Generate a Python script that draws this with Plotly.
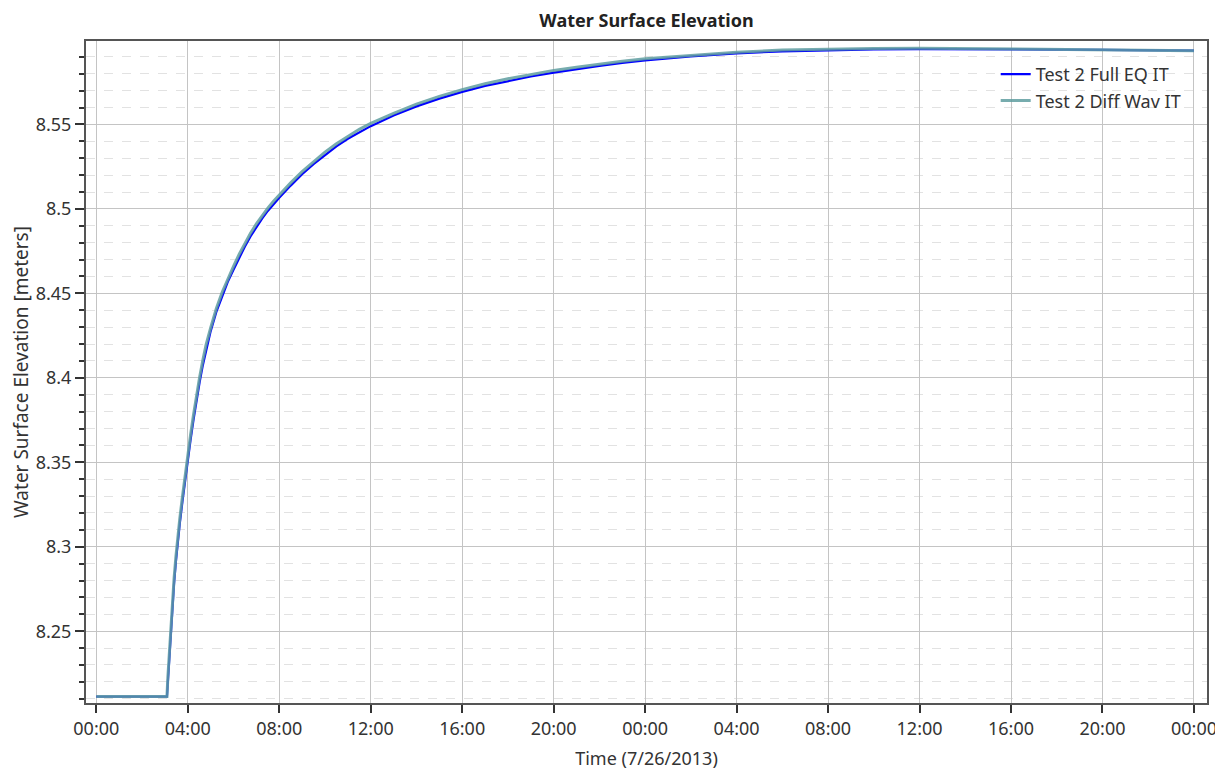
import pandas as pd
import plotly.graph_objects as go

# ---- data (hours since 7/26/2013 00:00) ----
hours = [0, 3.09, 3.13, 3.17, 3.21, 3.26, 3.33, 3.40, 3.48, 3.55, 3.65, 3.77, 3.88, 4.00, 4.12, 4.25,
         4.38, 4.52, 4.66, 4.80, 5.00, 5.25, 5.50, 5.75, 6.00, 6.25, 6.50, 6.75, 7.00, 7.25, 7.50, 7.75,
         8.00, 8.50, 9.00, 9.50, 10.0, 10.5, 11.0, 11.5, 12.0, 13, 14, 15, 16, 17, 18, 19, 20, 21, 22,
         23, 24, 26, 28, 30, 32, 34, 36, 38, 40, 42, 44, 46, 48]

wse_full = [8.2113, 8.2113, 8.220, 8.229, 8.239, 8.251, 8.265, 8.278, 8.291, 8.301, 8.3135, 8.327,
            8.339, 8.351, 8.363, 8.375, 8.3865, 8.3975, 8.4075, 8.4165, 8.4275, 8.439, 8.4485, 8.4568,
            8.464, 8.4712, 8.4778, 8.4838, 8.4893, 8.4943, 8.4988, 8.5029, 8.5066, 8.5138, 8.5205,
            8.5265, 8.532, 8.537, 8.5415, 8.5455, 8.549, 8.5553, 8.5607, 8.5653, 8.5693, 8.5728,
            8.5758, 8.5784, 8.5807, 8.5828, 8.5847, 8.5864, 8.5879, 8.5903, 8.5921, 8.5933, 8.5941,
            8.5945, 8.5946, 8.5946, 8.5945, 8.5943, 8.5941, 8.5939, 8.5937]

wse_diff = [8.2113, 8.2113, 8.223, 8.232, 8.242, 8.254, 8.268, 8.281, 8.294, 8.304, 8.3165, 8.330,
            8.342, 8.354, 8.366, 8.378, 8.3895, 8.4005, 8.4105, 8.4195, 8.4295, 8.441, 8.4505, 8.4588,
            8.466, 8.4732, 8.4798, 8.4858, 8.4912, 8.4961, 8.5005, 8.5045, 8.5082, 8.5154, 8.5221,
            8.5281, 8.5336, 8.5386, 8.5431, 8.5471, 8.5506, 8.5566, 8.562, 8.5666, 8.5706, 8.5741,
            8.5771, 8.5797, 8.582, 8.5838, 8.5857, 8.5874, 8.5889, 8.591, 8.5928, 8.594, 8.5946,
            8.595, 8.5951, 8.5949, 8.5948, 8.5945, 8.5942, 8.5939, 8.5937]

series_names = ["Test 2 Full EQ IT", "Test 2 Diff Wav IT"]
y_tick_vals = [8.25, 8.3, 8.35, 8.4, 8.45, 8.5, 8.55]
y_tick_text = ["8.25", "8.3", "8.35", "8.4", "8.45", "8.5", "8.55"]

start = pd.Timestamp("2013-07-26 00:00")
times = [start + pd.Timedelta(hours=h) for h in hours]

FONT = "Noto Sans"

fig = go.Figure()
fig.add_trace(go.Scatter(x=times, y=wse_full, mode="lines", name=series_names[0],
                         line=dict(color="#0000ff", width=2.2)))
fig.add_trace(go.Scatter(x=times, y=wse_diff, mode="lines", name=series_names[1],
                         line=dict(color="rgba(95,158,160,0.85)", width=3)))

x_lo = start - pd.Timedelta(hours=0.45)
x_hi = start + pd.Timedelta(hours=48.57)

fig.update_layout(
    width=1223, height=772,
    margin=dict(l=74, r=24, t=33, b=77),
    paper_bgcolor="white", plot_bgcolor="white",
    font=dict(family=FONT, color="#333333", size=16),
    title=dict(text="<b>Water Surface Elevation</b>", x=0.5, xref="paper", xanchor="center",
               yref="container", y=0.984, yanchor="middle",
               font=dict(family=FONT, size=18, color="#222222")),
    showlegend=True,
    legend=dict(x=0.981, xanchor="right", y=0.9775, yanchor="top", bgcolor="rgba(0,0,0,0)",
                font=dict(family=FONT, size=18, color="#333333"), itemwidth=30, tracegroupgap=0),
)

fig.update_xaxes(
    type="date", range=[x_lo, x_hi],
    tick0=start, dtick=4 * 3600 * 1000, tickformat="%H:%M",
    ticks="outside", ticklen=8, tickcolor="#333333", tickwidth=1.5,
    showgrid=True, gridcolor="#c4c4c4", gridwidth=1,
    showline=True, linecolor="#555555", linewidth=2, mirror=True,
    tickfont=dict(family=FONT, size=18, color="#333333"),
    title=dict(text="Time (7/26/2013)", font=dict(family=FONT, size=18, color="#333333"), standoff=14),
    zeroline=False,
)

fig.update_yaxes(
    range=[8.2075, 8.5994],
    tickvals=y_tick_vals, ticktext=y_tick_text,
    ticks="outside", ticklen=9, tickcolor="#333333", tickwidth=1.5,
    showgrid=True, gridcolor="#c4c4c4", gridwidth=1,
    minor=dict(dtick=0.01, tick0=8.2, ticks="outside", ticklen=5, tickcolor="#333333",
               showgrid=True, gridcolor="#e2e2e2", griddash="dash", gridwidth=1),
    showline=True, linecolor="#555555", linewidth=2, mirror=True,
    tickfont=dict(family=FONT, size=18, color="#333333"),
    title=dict(text="Water Surface Elevation [meters]", font=dict(family=FONT, size=19, color="#333333"),
               standoff=2),
    zeroline=False,
)

fig.write_html("out.html")
